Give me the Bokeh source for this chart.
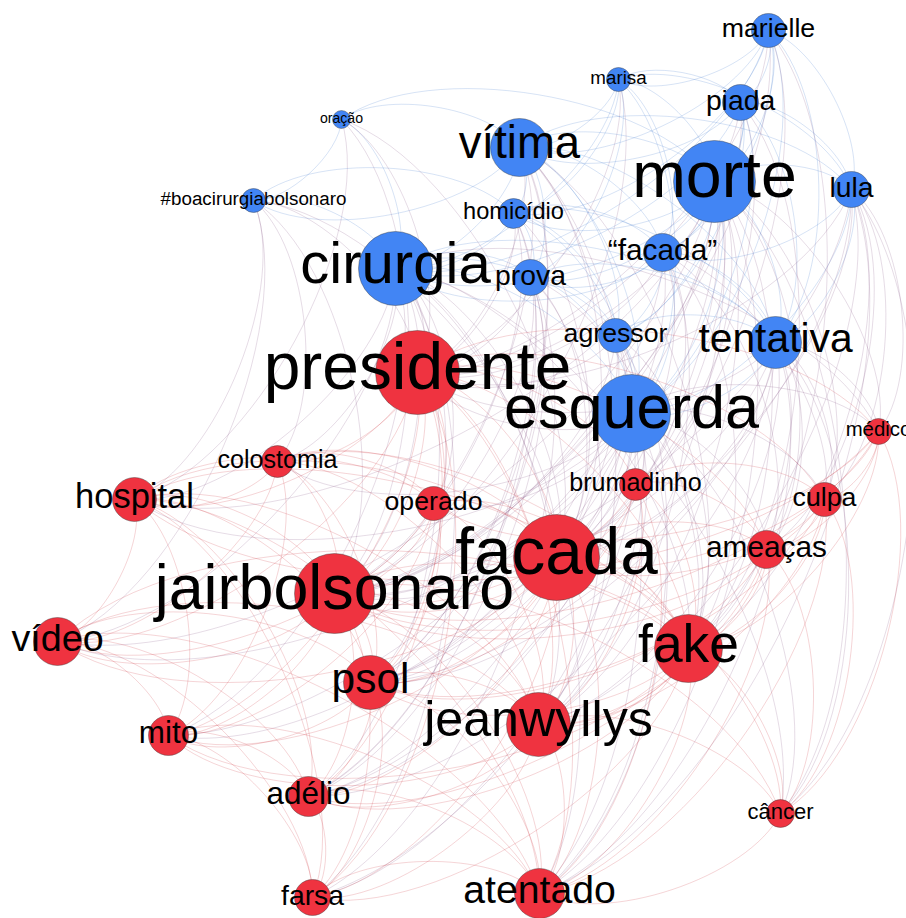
import numpy as np
from bokeh.plotting import figure
from bokeh.models import ColumnDataSource, Range1d
from bokeh.core.properties import value
from bokeh.embed import file_html
from bokeh.resources import INLINE

# ---------------- data ----------------
labels = ["marielle", "marisa", "piada", "oração", "vítima", "morte", "lula",
          "#boacirurgiabolsonaro", "homicídio", "“facada”", "cirurgia", "prova",
          "agressor", "tentativa", "esquerda",
          "presidente", "médico", "colostomia", "brumadinho", "hospital", "operado",
          "culpa", "facada", "ameaças", "jairbolsonaro", "vídeo", "fake", "psol",
          "jeanwyllys", "mito", "adélio", "câncer", "farsa", "atentado"]
# layout coordinates (Gephi layout, screen units)
node_x = [768, 618, 740, 341, 519, 714, 851, 253, 513, 662, 395, 530, 615, 775, 631,
          417, 878, 277, 635, 134, 433, 824, 556, 766, 334, 57, 688, 370, 538, 168,
          308, 780, 312, 539]
node_y = [30, 79, 102, 119, 147, 181, 189, 200, 213, 252, 268, 277, 335, 342, 413,
          372, 431, 461, 484, 499, 503, 499, 557, 549, 593, 641, 648, 682, 724, 735,
          796, 813, 897, 893]
# node weight (drives circle radius and label size)
node_weight = [17, 12, 18, 9, 29, 41, 18, 12, 15, 19, 37, 18, 17, 26, 39,
               42, 13, 16, 16, 22, 17, 17, 43, 19, 40, 24, 34, 27, 32, 20,
               20, 14, 18, 25]
# community: 0 = blue, 1 = red
node_community = [0] * 15 + [1] * 19

neighbors = {
    "marielle": ["morte", "piada", "lula", "marisa", "vítima", "esquerda", "tentativa", "“facada”",
                 "facada", "cirurgia", "presidente", "jairbolsonaro", "fake", "homicídio"],
    "marisa": ["morte", "lula", "vítima", "piada", "homicídio", "prova", "“facada”", "esquerda",
               "cirurgia", "jairbolsonaro", "presidente"],
    "piada": ["morte", "lula", "vítima", "esquerda", "“facada”", "facada", "fake", "tentativa",
              "cirurgia", "presidente", "jairbolsonaro", "agressor"],
    "oração": ["cirurgia", "#boacirurgiabolsonaro", "vítima", "morte", "presidente",
               "jairbolsonaro", "hospital", "facada"],
    "vítima": ["morte", "cirurgia", "homicídio", "prova", "“facada”", "esquerda", "tentativa",
               "agressor", "presidente", "facada", "jairbolsonaro", "fake", "jeanwyllys", "psol",
               "atentado", "#boacirurgiabolsonaro", "lula", "adélio"],
    "morte": ["cirurgia", "homicídio", "prova", "“facada”", "esquerda", "tentativa", "agressor",
              "presidente", "facada", "jairbolsonaro", "fake", "jeanwyllys", "psol", "atentado",
              "lula", "câncer", "médico", "culpa", "ameaças", "brumadinho", "hospital", "mito",
              "farsa", "adélio", "vídeo"],
    "lula": ["esquerda", "tentativa", "facada", "fake", "câncer", "presidente", "jairbolsonaro",
             "“facada”", "médico", "culpa", "psol", "jeanwyllys", "ameaças", "atentado"],
    "#boacirurgiabolsonaro": ["cirurgia", "presidente", "jairbolsonaro", "hospital", "colostomia",
                              "facada", "vídeo", "homicídio"],
    "homicídio": ["cirurgia", "prova", "tentativa", "esquerda", "presidente", "facada",
                  "jairbolsonaro", "agressor", "“facada”", "adélio", "psol"],
    "“facada”": ["cirurgia", "prova", "esquerda", "tentativa", "agressor", "facada", "fake",
                 "presidente", "jairbolsonaro", "jeanwyllys", "psol", "brumadinho", "ameaças", "culpa"],
    "cirurgia": ["prova", "presidente", "esquerda", "facada", "jairbolsonaro", "hospital",
                 "colostomia", "operado", "agressor", "tentativa", "fake", "psol", "jeanwyllys",
                 "vídeo", "mito", "adélio", "atentado", "médico", "câncer", "farsa"],
    "prova": ["esquerda", "agressor", "tentativa", "presidente", "facada", "jairbolsonaro", "fake",
              "psol", "jeanwyllys", "adélio", "farsa"],
    "agressor": ["esquerda", "tentativa", "presidente", "facada", "jairbolsonaro", "adélio", "psol",
                 "jeanwyllys", "fake", "atentado"],
    "tentativa": ["esquerda", "presidente", "facada", "jairbolsonaro", "fake", "jeanwyllys", "psol",
                  "atentado", "ameaças", "culpa", "médico", "adélio", "câncer"],
    "esquerda": ["presidente", "facada", "jairbolsonaro", "fake", "jeanwyllys", "psol", "atentado",
                 "culpa", "ameaças", "brumadinho", "operado", "colostomia", "hospital", "vídeo",
                 "mito", "adélio", "farsa", "médico", "câncer"],
    "presidente": ["facada", "jairbolsonaro", "fake", "jeanwyllys", "psol", "atentado", "hospital",
                   "colostomia", "operado", "brumadinho", "culpa", "ameaças", "vídeo", "mito",
                   "adélio", "farsa", "médico"],
    "médico": ["facada", "jairbolsonaro", "hospital", "culpa", "fake", "câncer", "operado", "ameaças"],
    "colostomia": ["facada", "jairbolsonaro", "hospital", "operado", "vídeo", "fake", "jeanwyllys",
                   "psol", "mito"],
    "brumadinho": ["facada", "jairbolsonaro", "fake", "jeanwyllys", "psol", "culpa", "ameaças", "atentado"],
    "hospital": ["facada", "jairbolsonaro", "operado", "vídeo", "mito", "fake", "psol", "jeanwyllys",
                 "adélio", "atentado", "farsa"],
    "operado": ["facada", "jairbolsonaro", "fake", "psol", "jeanwyllys", "vídeo", "mito"],
    "culpa": ["facada", "jairbolsonaro", "fake", "jeanwyllys", "psol", "ameaças", "atentado", "câncer"],
    "facada": ["jairbolsonaro", "fake", "jeanwyllys", "psol", "atentado", "ameaças", "vídeo", "mito",
               "adélio", "farsa", "câncer"],
    "ameaças": ["jairbolsonaro", "fake", "jeanwyllys", "psol", "atentado", "câncer", "adélio"],
    "jairbolsonaro": ["fake", "jeanwyllys", "psol", "atentado", "vídeo", "mito", "adélio", "farsa", "câncer"],
    "vídeo": ["fake", "psol", "jeanwyllys", "mito", "adélio", "farsa", "atentado"],
    "fake": ["jeanwyllys", "psol", "atentado", "mito", "adélio", "farsa", "câncer"],
    "psol": ["jeanwyllys", "atentado", "mito", "adélio", "farsa"],
    "jeanwyllys": ["atentado", "mito", "adélio", "farsa", "câncer"],
    "mito": ["adélio", "farsa", "atentado"],
    "adélio": ["farsa", "atentado"],
    "câncer": ["atentado"],
    "farsa": ["atentado"],
}

community_colors = [(66, 133, 244), (239, 51, 64)]

# ---------------- derived ----------------
idx = {lab: i for i, lab in enumerate(labels)}
pairs = set()
for a, lst in neighbors.items():
    for b in lst:
        i, j = idx[a], idx[b]
        if i != j:
            pairs.add((min(i, j), max(i, j)))
pairs = sorted(pairs)

def hexc(c):
    return "#%02x%02x%02x" % tuple(int(round(v)) for v in c)

f = 0.2
ex0, ey0, ex1, ey1, ecx0, ecy0, ecx1, ecy1, ecol = [], [], [], [], [], [], [], [], []
for i, j in pairs:
    x1, y1, x2, y2 = node_x[i], node_y[i], node_x[j], node_y[j]
    dx, dy = x2 - x1, y2 - y1
    ex0.append(x1); ey0.append(y1); ex1.append(x2); ey1.append(y2)
    ecx0.append(x1 + f * dx + f * dy); ecy0.append(y1 + f * dy - f * dx)
    ecx1.append(x2 - f * dx + f * dy); ecy1.append(y2 - f * dy - f * dx)
    ca = community_colors[node_community[i]]
    cb = community_colors[node_community[j]]
    mix = [(u + v) / 2 * 0.85 for u, v in zip(ca, cb)]
    ecol.append(hexc(mix))

edge_src = ColumnDataSource(dict(x0=ex0, y0=ey0, x1=ex1, y1=ey1,
                                 cx0=ecx0, cy0=ecy0, cx1=ecx1, cy1=ecy1, color=ecol))

label_scale = 1.57
font_px = [label_scale * w for w in node_weight]
node_src = ColumnDataSource(dict(
    x=node_x, y=node_y,
    r=node_weight,
    fill=[hexc(community_colors[c]) for c in node_community],
    label=labels,
    ly=[y - 0.10 * fs for y, fs in zip(node_y, font_px)],
    fs=["%.1fpx" % fs for fs in font_px],
))

# ---------------- plot ----------------
p = figure(width=906, height=918, x_range=Range1d(0, 906), y_range=Range1d(918, 0),
           output_backend="svg", toolbar_location=None, min_border=0)
p.axis.visible = False
p.grid.visible = False
p.outline_line_color = None
p.background_fill_color = "white"

p.bezier(x0="x0", y0="y0", x1="x1", y1="y1", cx0="cx0", cy0="cy0", cx1="cx1", cy1="cy1",
         line_color="color", line_alpha=0.25, line_width=0.8, source=edge_src)

p.circle(x="x", y="y", radius="r", fill_color="fill", line_color="#3a3a3a",
         line_width=0.6, line_alpha=0.7, source=node_src)

p.text(x="x", y="ly", text="label", text_align="center", text_baseline="alphabetic",
       text_font=value("Liberation Sans"), text_font_size="fs",
       text_color="black", source=node_src)

open("out.html", "w").write(file_html(p, INLINE))
